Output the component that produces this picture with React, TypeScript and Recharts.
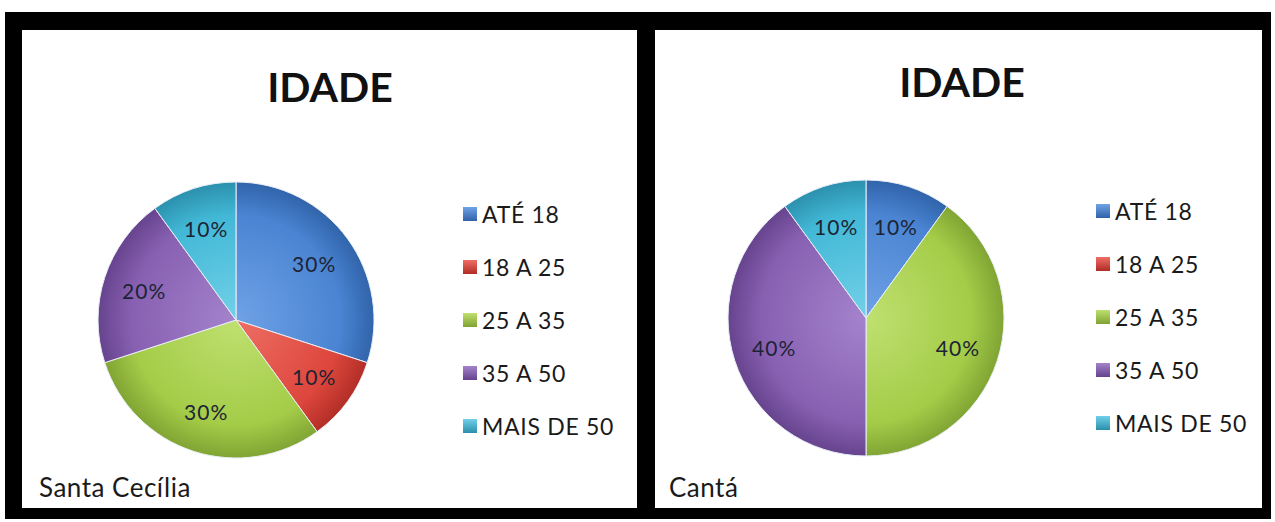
import React from "react";
import { PieChart, Pie, Cell } from "recharts";

const categories = ["ATÉ 18", "18 A 25", "25 A 35", "35 A 50", "MAIS DE 50"];
const santaCeciliaValues = [30, 10, 30, 20, 10];
const cantaValues = [10, 0, 40, 40, 10];
const chartTitle = "IDADE";
const panelNames = ["Santa Cecília", "Cantá"];

const baseColors = ["#4a84d2", "#dd463c", "#a4cc48", "#8860b2", "#42b8d6"];
const lightColors = ["#6fa2e6", "#ee6e64", "#bfe070", "#a483cc", "#72d0e8"];
const darkColors = ["#2f62a8", "#b02d26", "#7fa232", "#65428c", "#2a8eab"];

const FONT = "Lato, 'Open Sans', sans-serif";

const RAD = Math.PI / 180;

const renderLabel = (props: any) => {
  const { cx, cy, midAngle, outerRadius, value } = props;
  if (!value) return null;
  const r = outerRadius * 0.7;
  const x = cx + r * Math.cos(-midAngle * RAD);
  const y = cy + r * Math.sin(-midAngle * RAD);
  return (
    <text
      x={x}
      y={y}
      textAnchor="middle"
      dominantBaseline="central"
      fill="#1c2434"
      fontSize={21}
      letterSpacing={1}
      fontFamily={FONT}
    >
      {`${value}%`}
    </text>
  );
};

function Panel({
  id,
  left,
  width,
  values,
  name,
  cx,
  cy,
  titleX,
  titleY,
  legendX,
  legendY,
  nameX,
}: {
  id: string;
  left: number;
  width: number;
  values: number[];
  name: string;
  cx: number;
  cy: number;
  titleX: number;
  titleY: number;
  legendX: number;
  legendY: number;
  nameX: number;
}) {
  const data = categories.map((c, i) => ({ name: c, value: values[i] }));
  return (
    <div
      style={{
        position: "absolute",
        left,
        top: 30,
        width,
        height: 478,
        background: "#ffffff",
      }}
    >
      <PieChart
        width={width}
        height={478}
        margin={{ top: 0, right: 0, bottom: 0, left: 0 }}
      >
        <defs>
          {baseColors.map((c, i) => (
            <radialGradient
              key={i}
              id={`${id}-g${i}`}
              cx={cx}
              cy={cy}
              r={140}
              gradientUnits="userSpaceOnUse"
            >
              <stop offset="0%" stopColor={lightColors[i]} />
              <stop offset="75%" stopColor={baseColors[i]} />
              <stop offset="100%" stopColor={darkColors[i]} />
            </radialGradient>
          ))}
        </defs>
        <Pie
          data={data}
          dataKey="value"
          nameKey="name"
          cx={cx}
          cy={cy}
          outerRadius={138}
          startAngle={90}
          endAngle={-270}
          isAnimationActive={false}
          label={renderLabel}
          labelLine={false}
          stroke="#e8eef5"
          strokeWidth={1}
        >
          {data.map((d, i) => (
            <Cell
              key={i}
              fill={`url(#${id}-g${i})`}
              stroke={d.value ? "#e8eef5" : "none"}
            />
          ))}
        </Pie>
      </PieChart>
      <div
        style={{
          position: "absolute",
          left: titleX - 100,
          width: 200,
          top: titleY,
          textAlign: "center",
          fontFamily: FONT,
          fontWeight: 700,
          fontSize: 41,
          lineHeight: "44px",
          color: "#111",
        }}
      >
        {chartTitle}
      </div>
      <div
        style={{
          position: "absolute",
          left: legendX,
          top: legendY,
          fontFamily: FONT,
          fontSize: 23,
          letterSpacing: 0.7,
          color: "#1a1a1a",
        }}
      >
        {categories.map((c, i) => (
          <div
            key={c}
            style={{
              display: "flex",
              alignItems: "center",
              height: 53,
              whiteSpace: "nowrap",
            }}
          >
            <span
              style={{
                display: "inline-block",
                width: 14,
                height: 14,
                marginRight: 5,
                background: `linear-gradient(${lightColors[i]}, ${darkColors[i]})`,
              }}
            />
            {c}
          </div>
        ))}
      </div>
      <div
        style={{
          position: "absolute",
          left: nameX,
          top: 441,
          fontFamily: FONT,
          fontSize: 26,
          letterSpacing: 0.5,
          color: "#1a1a1a",
        }}
      >
        {name}
      </div>
    </div>
  );
}

export default function App() {
  return (
    <div
      style={{
        position: "absolute",
        left: 0,
        top: 0,
        width: 1275,
        height: 522,
        background: "#ffffff",
        overflow: "hidden",
      }}
    >
      <div
        style={{
          position: "absolute",
          left: 5,
          top: 12,
          width: 1266,
          height: 507,
          background: "#000000",
        }}
      />
      <Panel
        id="sc"
        left={22}
        width={615}
        values={santaCeciliaValues}
        name={panelNames[0]}
        cx={214}
        cy={290}
        titleX={308}
        titleY={35}
        legendX={441}
        legendY={157}
        nameX={17}
      />
      <Panel
        id="ca"
        left={655}
        width={607}
        values={cantaValues}
        name={panelNames[1]}
        cx={211}
        cy={288}
        titleX={307}
        titleY={30}
        legendX={441}
        legendY={154}
        nameX={14}
      />
    </div>
  );
}
